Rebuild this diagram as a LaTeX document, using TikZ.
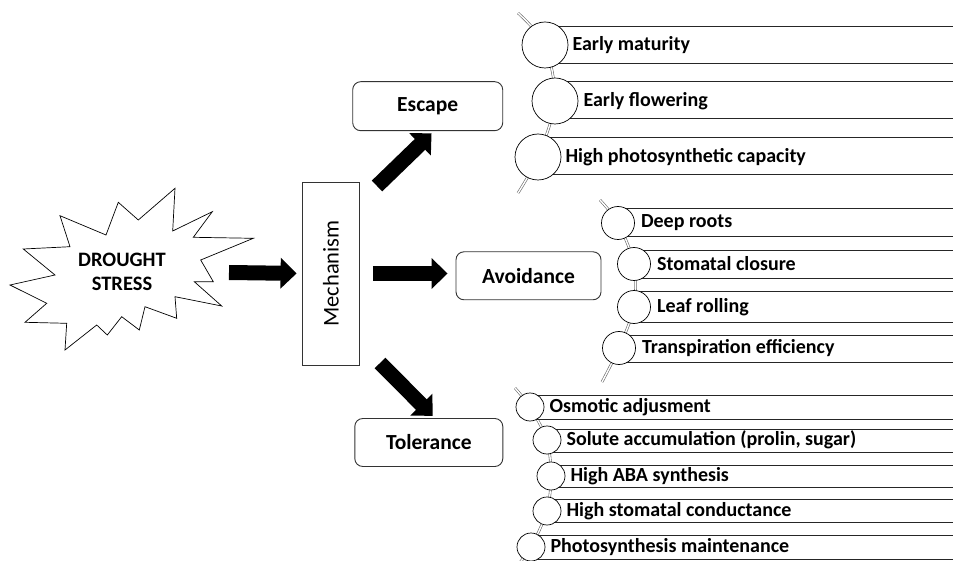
\documentclass[tikz,border=0pt]{standalone}
\usepackage{fontspec}
\setmainfont{Carlito}
\usetikzlibrary{arrows.meta,backgrounds}

\begin{document}
\begin{tikzpicture}[x=1pt, y=-1pt,
    box/.style={draw=black!80, line width=0.9pt, rounded corners=8pt, font=\fontsize{21.5}{24}\selectfont\bfseries},
    fat/.style={line width=15pt, -{Triangle[length=16pt,width=30pt]}},
    bar/.style={draw=black!85, line width=0.8pt},
    ball/.style={circle, draw, fill=white, line width=0.7pt, inner sep=0pt},
    item/.style={anchor=west, inner sep=0pt, font=\fontsize{20}{22}\selectfont\bfseries},
    stem/.style={draw=black!60, double=white, double distance=1.4pt, line width=0.6pt}]
    \useasboundingbox (0,0) rectangle (953,561);

    % drought stress
    \draw[fill=white, line width=0.7pt] (175,188.3) -- (172.7,231) -- (212.3,211.7) -- (193.3,237.3)
      -- (253.3,238.3) -- (200.7,260) -- (213.3,281.7) -- (194.3,281.7) -- (221.7,306)
      -- (175,296.7) -- (176.7,318.3) -- (145,306.7) -- (139.3,330) -- (121.7,316.7)
      -- (107.3,335) -- (96.7,325) -- (65,350) -- (66.7,323.3) -- (25,322.3)
      -- (46.7,303.3) -- (10,285) -- (55,275) -- (23.3,249) -- (70,246.7)
      -- (60,215.7) -- (106,235) -- (118.3,202.3) -- (138.3,220) -- cycle;
    \node[font=\fontsize{20.5}{24}\selectfont\bfseries, align=center] (drought) at (122,272) {DROUGHT\\STRESS};

    \node[draw=black!80, line width=0.8pt, minimum width=57, minimum height=183,
      font=\fontsize{22.5}{24}\selectfont] (mech) at (331,273.5) {\rotatebox{90}{Mechanism}};

    \node[box, minimum width=150, minimum height=49] (escape) at (427.7,106.2) {Escape};
    \node[box, minimum width=145, minimum height=48] (avoid) at (528.5,275.8) {Avoidance};
    \node[box, minimum width=148, minimum height=48] (toler) at (428.8,442.5) {Tolerance};

    \coordinate (s1) at (229,272.5);
    \coordinate (s2) at (377,186);
    \coordinate (s3) at (380,363);
    \draw[fat, shorten >=5.5pt] (s1) -- (mech.west);
    \draw[fat, shorten <=13pt, shorten >=8pt] (mech.east) -- (mech.east -| avoid.west);
    \draw[fat, shorten >=3pt] (s2) -- ([xshift=6pt]escape.south);
    \draw[fat, shorten >=3pt] (s3) -- ([xshift=6pt]toler.north);

    % escape
    \draw[bar] (953,26) -| (545,63) -- (953,63);
    \draw[bar] (953,81.7) -| (555,118.3) -- (953,118.3);
    \draw[bar] (953,137.3) -| (538,174.3) -- (953,174.3);
    \node[ball, minimum size=46] (e1) at (545,45) {};
    \node[ball, minimum size=46] (e2) at (555,101) {};
    \node[ball, minimum size=46] (e3) at (538,157) {};
    \node[item] (e1t) at ([xshift=4pt]e1.east) {Early maturity};
    \node[item] (e2t) at ([xshift=5pt]e2.east) {Early flowering};
    \node[item] (e3t) at ([xshift=4pt]e3.east) {High photosynthetic capacity};
    \coordinate (etop) at (518,13);
    \coordinate (ebot) at (518,193);

    % avoidance
    \draw[bar] (953,208.3) -| (618,236.7) -- (953,236.7);
    \draw[bar] (953,250.7) -| (634,278.3) -- (953,278.3);
    \draw[bar] (953,291.7) -| (634,322.3) -- (953,322.3);
    \draw[bar] (953,335) -| (619,362.7) -- (953,362.7);
    \node[ball, minimum size=33] (a1) at (618,223) {};
    \node[ball, minimum size=33] (a2) at (634,264) {};
    \node[ball, minimum size=33] (a3) at (634,307) {};
    \node[ball, minimum size=33] (a4) at (619,348) {};
    \node[item] (a1t) at ([xshift=6pt]a1.east) {Deep roots};
    \node[item] (a2t) at ([xshift=6pt]a2.east) {Stomatal closure};
    \node[item] (a3t) at ([xshift=6pt]a3.east) {Leaf rolling};
    \node[item] (a4t) at ([xshift=6pt]a4.east) {Transpiration efficiency};
    \coordinate (atop) at (600,200);
    \coordinate (abot) at (602,382);

    % tolerance
    \draw[bar] (953,395) -| (530,419.3) -- (953,419.3);
    \draw[bar] (953,429.3) -| (547,452.7) -- (953,452.7);
    \draw[bar] (953,465) -| (551,487.3) -- (953,487.3);
    \draw[bar] (953,499.3) -| (547,522.7) -- (953,522.7);
    \draw[bar] (953,535) -| (531,559) -- (953,559);
    \node[ball, minimum size=28] (t1) at (530,407) {};
    \node[ball, minimum size=28] (t2) at (547,440) {};
    \node[ball, minimum size=28] (t3) at (551,476) {};
    \node[ball, minimum size=28] (t4) at (547,511) {};
    \node[ball, minimum size=28] (t5) at (531,547) {};
    \node[item] (t1t) at ([xshift=5pt]t1.east) {Osmotic adjusment};
    \node[item] (t2t) at ([xshift=5pt]t2.east) {Solute accumulation (prolin, sugar)};
    \node[item] (t3t) at ([xshift=5pt]t3.east) {High ABA synthesis};
    \node[item] (t4t) at ([xshift=5pt]t4.east) {High stomatal conductance};
    \node[item] (t5t) at ([xshift=5pt]t5.east) {Photosynthesis maintenance};
    \coordinate (ttop) at (515,388);
    \coordinate (tbot) at (517,566);

    \begin{scope}[on background layer]
      \draw[stem] plot[smooth] coordinates {(etop) (e1.center) (e2.center) (e3.center) (ebot)};
      \draw[stem] plot[smooth] coordinates {(atop) (a1.center) (a2.center) (a3.center) (a4.center) (abot)};
      \draw[stem] plot[smooth] coordinates {(ttop) (t1.center) (t2.center) (t3.center) (t4.center) (t5.center) (tbot)};
    \end{scope}
\end{tikzpicture}
\end{document}
